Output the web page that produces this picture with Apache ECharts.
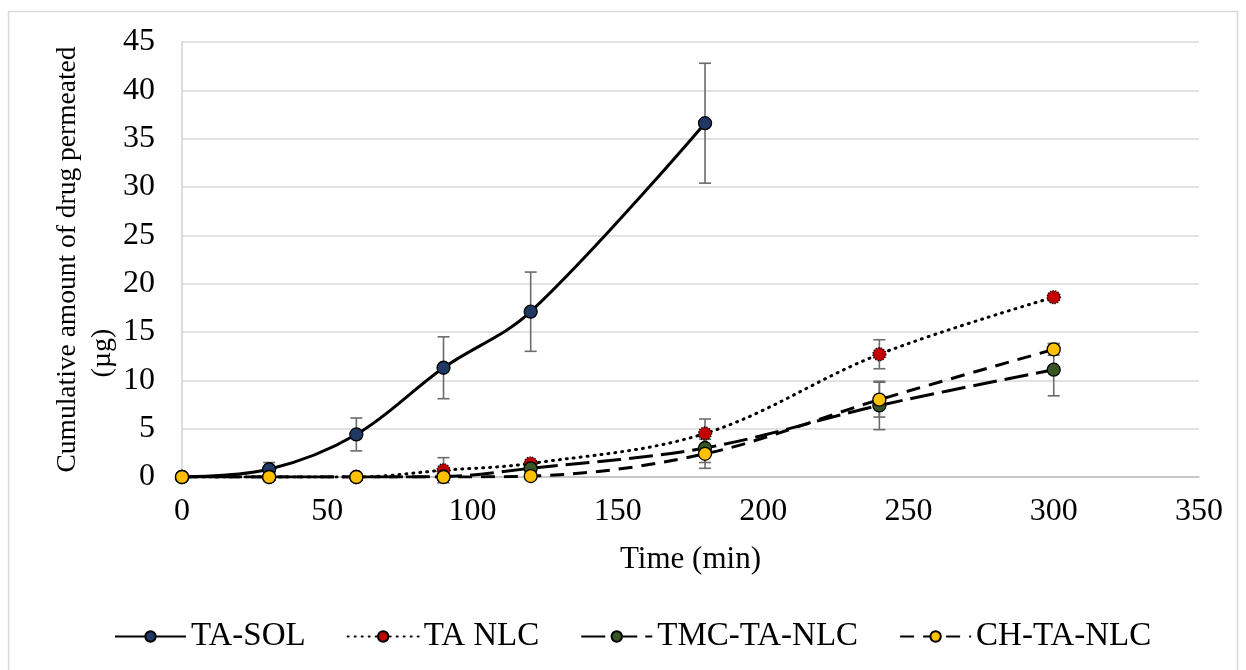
<!DOCTYPE html>
<html>
<head>
<meta charset="utf-8">
<script src="https://cdn.jsdelivr.net/npm/echarts@6/dist/echarts.min.js"></script>
<style>
  html, body { margin: 0; padding: 0; background: #fff; }
  #chart { width: 1246px; height: 670px; }
</style>
</head>
<body>
<div id="chart"></div>
<script>
// time points (min)
const times = [0, 30, 60, 90, 120, 180, 240, 300];

// mean cumulative amount (µg) and error (±)
const taSol = [0, 0.8, 4.4, 11.3, 17.1, 36.6];
const taSolErr = [0, 0.7, 1.7, 3.2, 4.1, 6.2];
const taNlc = [0, 0, 0, 0.7, 1.4, 4.5, 12.7, 18.6];
const taNlcErr = [0, 0, 0, 1.3, 0.3, 1.5, 1.5, 0.3];
const tmcTaNlc = [0, 0, 0, 0.05, 0.9, 3.0, 7.4, 11.1];
const tmcTaNlcErr = [0, 0, 0, 0, 0.3, 1.5, 2.5, 2.7];
const chTaNlc = [0, 0, 0, 0, 0.1, 2.4, 8.0, 13.2];
const chTaNlcErr = [0, 0, 0, 0, 0.2, 1.5, 1.8, 0.6];

const names = ['TA-SOL', 'TA NLC', 'TMC-TA-NLC', 'CH-TA-NLC'];
const fills = ['#203864', '#C00000', '#375623', '#FFC000'];
const dashes = ['solid', [1, 6], [24, 8], [14, 9]];
const means = [taSol, taNlc, tmcTaNlc, chTaNlc];
const errs = [taSolErr, taNlcErr, tmcTaNlcErr, chTaNlcErr];

const font = 'Liberation Serif, Times New Roman, serif';

let myChart = echarts.init(document.getElementById('chart'));

function pairs(vals) {
    return vals.map((v, i) => [times[i], v]);
}

function errData(vals, e) {
    let out = [];
    for (let i = 0; i < vals.length; i++) {
        if (e[i] > 0) out.push([times[i], vals[i] - e[i], vals[i] + e[i]]);
    }
    return out;
}

function renderErr(params, api) {
    let x = api.value(0);
    let lo = api.coord([x, api.value(1)]);
    let hi = api.coord([x, api.value(2)]);
    let w = 6;
    let st = { stroke: '#6b6b6b', lineWidth: 1.6 };
    return {
        type: 'group',
        children: [
            { type: 'line', shape: { x1: lo[0], y1: lo[1], x2: hi[0], y2: hi[1] }, style: st },
            { type: 'line', shape: { x1: lo[0] - w, y1: lo[1], x2: lo[0] + w, y2: lo[1] }, style: st },
            { type: 'line', shape: { x1: hi[0] - w, y1: hi[1], x2: hi[0] + w, y2: hi[1] }, style: st }
        ]
    };
}

let series = [];
// error bars first so markers sit on top
for (let k = 0; k < 4; k++) {
    series.push({
        type: 'custom',
        renderItem: renderErr,
        data: errData(means[k], errs[k]),
        encode: { x: 0, y: [1, 2] },
        z: 1,
        silent: true
    });
}
for (let k = 0; k < 4; k++) {
    series.push({
        name: names[k],
        type: 'line',
        data: pairs(means[k]),
        smooth: 0.35,
        symbol: 'circle',
        symbolSize: 13,
        z: 2 + k,
        lineStyle: { color: '#000', width: 3, type: dashes[k], cap: k == 1 ? 'round' : 'butt' },
        itemStyle: {
            color: fills[k],
            borderColor: '#000',
            borderWidth: 1.3,
            borderType: k == 1 ? 'dotted' : 'solid'
        }
    });
}

let option = {
    animation: false,
    backgroundColor: '#fff',
    textStyle: { fontFamily: font },
    grid: { left: 182, right: 47, top: 42, bottom: 193 },
    graphic: [
        {
            type: 'rect',
            shape: { x: 8.5, y: 11.5, width: 1229, height: 700 },
            style: { fill: 'none', stroke: '#D9D9D9', lineWidth: 1.5 },
            silent: true
        },
        {
            type: 'text',
            x: 103, y: 353,
            rotation: Math.PI / 2,
            style: {
                text: '(µg)', font: '28px ' + font, fill: '#000',
                align: 'center', verticalAlign: 'middle'
            }
        }
    ],
    legend: {
        data: names,
        left: 109,
        top: 615,
        itemWidth: 71,
        itemHeight: 13,
        itemGap: 41,
        textStyle: { fontFamily: font, fontSize: 33, color: '#000' }
    },
    xAxis: {
        type: 'value',
        min: 0, max: 350, interval: 50,
        name: 'Time (min)',
        nameLocation: 'middle',
        nameGap: 67,
        nameTextStyle: { fontFamily: font, fontSize: 31, color: '#000' },
        axisLine: { show: true, lineStyle: { color: '#BFBFBF', width: 1.5 } },
        axisTick: { show: false },
        splitLine: { show: false },
        axisLabel: { fontFamily: font, fontSize: 32, color: '#000', margin: 19 }
    },
    yAxis: {
        type: 'value',
        min: 0, max: 45, interval: 5,
        name: 'Cumulative amount of drug permeated',
        nameLocation: 'middle',
        nameRotate: 90,
        nameGap: 100,
        nameTextStyle: { fontFamily: font, fontSize: 27.5, color: '#000' },
        axisLine: { show: true, lineStyle: { color: '#D0D0D0', width: 1.5 } },
        axisTick: { show: false },
        splitLine: { show: true, lineStyle: { color: '#D9D9D9', width: 1.5 } },
        axisLabel: { fontFamily: font, fontSize: 32, color: '#000', margin: 27 }
    },
    series: series
};

myChart.setOption(option);
</script>
</body>
</html>
